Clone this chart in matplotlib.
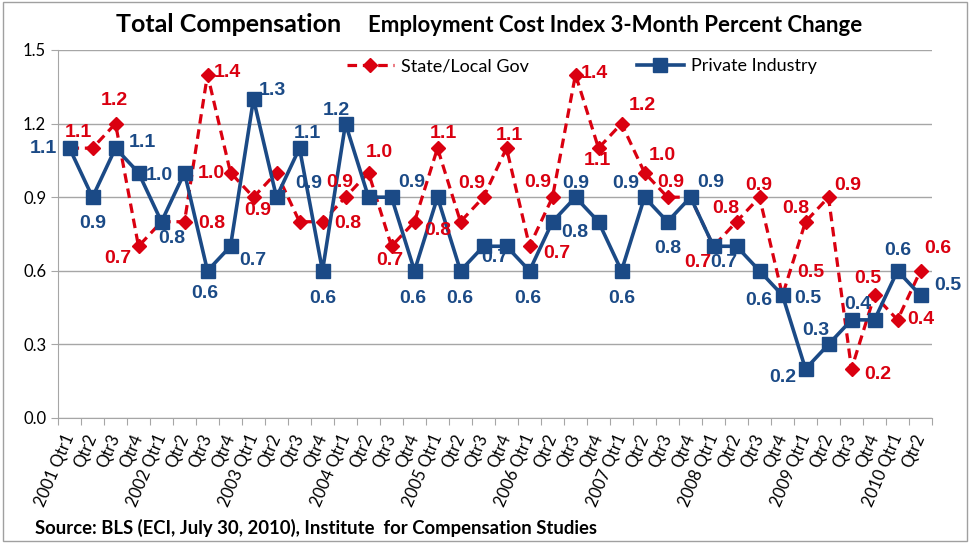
import matplotlib
matplotlib.use("Agg")
import matplotlib.pyplot as plt
from matplotlib.patches import Rectangle

years = ["2001", "2002", "2003", "2004", "2005", "2006", "2007", "2008", "2009", "2010"]
quarters = ["Qtr1", "Qtr2", "Qtr3", "Qtr4"]

state_local = [1.1, 1.1, 1.2, 0.7, 0.8, 0.8, 1.4, 1.0, 0.9, 1.0, 0.8, 0.8,
               0.9, 1.0, 0.7, 0.8, 1.1, 0.8, 0.9, 1.1, 0.7, 0.9, 1.4, 1.1,
               1.2, 1.0, 0.9, 0.9, 0.7, 0.8, 0.9, 0.5, 0.8, 0.9, 0.2, 0.5,
               0.4, 0.6]
private = [1.1, 0.9, 1.1, 1.0, 0.8, 1.0, 0.6, 0.7, 1.3, 0.9, 1.1, 0.6,
           1.2, 0.9, 0.9, 0.6, 0.9, 0.6, 0.7, 0.7, 0.6, 0.8, 0.9, 0.8,
           0.6, 0.9, 0.8, 0.9, 0.7, 0.7, 0.6, 0.5, 0.2, 0.3, 0.4, 0.4,
           0.6, 0.5]

# tick labels: year only on Qtr1
labels = []
for y in years:
    for q in quarters:
        labels.append(y + " " + q if q == "Qtr1" else q)
labels = labels[:len(private)]

# label offsets in pixels (dx, dy), None = label hidden
red_off = [(9, 16), None, (-1, 23), (-21, -12), None, (27, -2), (20, 2), (-19, -1),
           (4, -13), None, None, (25, -2), (-6, 15), (11, 20), (-2, -14), None,
           (6, 15), (-23, -9), (-12, 14), (3, 13), (27, -7), (-15, 15), (19, 1), (-1, -12),
           (21, 18), (18, 17), (3, 15), None, (-16, -16), (-11, 13), (-1, 12), (28, 23),
           (-10, 13), (19, 12), (26, -6), (-7, 17), (23, 0), (17, 22)]
blue_off = [(-26, 0), (0, -26), (27, 6), (21, -3), (10, -17), None, (-3, -23), (22, -14),
            (19, 9), (32, 14), (8, 15), (0, -28), (-9, 13), None, (20, 15), (-2, -28),
            None, (-1, -28), None, (-12, -11), (-2, -28), (22, -11), (0, 14), None,
            (0, -28), (-19, 14), (0, -27), (20, 15), (10, -16), None, (-1, -30), (25, -3),
            (-23, -9), (-13, 14), (6, 15), None, (0, 20), (27, 10)]

RED = "#DA0010"
BLUE = "#1B4A86"
GRID = "#A6A6A6"

fig = plt.figure(figsize=(9.73, 5.44), dpi=100)
ax = fig.add_axes([58/973, 1-418/544, (932-58)/973, (418-50)/544])

x = list(range(len(private)))
ax.plot(x, state_local, color=RED, lw=2.3, ls=(0, (3, 1.8)), marker="D", ms=7,
        label="State/Local Gov", zorder=3)
ax.plot(x, private, color=BLUE, lw=2.6, marker="s", ms=9.5,
        label="Private Industry", zorder=4)

lab_font = dict(family="Liberation Sans", weight="bold", fontsize=14)
for i in x:
    if red_off[i] is not None:
        ax.annotate(f"{state_local[i]:.1f}", (i, state_local[i]), xytext=red_off[i],
                    textcoords="offset pixels", ha="center", va="center",
                    color=RED, zorder=6, **lab_font)
    if blue_off[i] is not None:
        ax.annotate(f"{private[i]:.1f}", (i, private[i]), xytext=blue_off[i],
                    textcoords="offset pixels", ha="center", va="center",
                    color=BLUE, zorder=6, **lab_font)

ax.set_xlim(-0.5, len(x) - 0.5)
ax.set_ylim(0, 1.5)
ax.set_yticks([0.0, 0.3, 0.6, 0.9, 1.2, 1.5])
ax.set_yticklabels(["0.0", "0.3", "0.6", "0.9", "1.2", "1.5"], fontsize=12, family="Lato")
ax.yaxis.grid(True, color=GRID, lw=1)
ax.set_axisbelow(True)

ax.set_xticks([i - 0.5 for i in range(len(x) + 1)])
ax.set_xticklabels([])
ax.set_xticks(x, minor=True)
ax.set_xticklabels(labels, minor=True, rotation=67, ha="right", va="center",
                   rotation_mode="anchor", fontsize=12, family="Lato")
ax.tick_params(axis="x", which="minor", length=0, pad=12)
ax.tick_params(axis="x", which="major", length=5, color=GRID)
ax.tick_params(axis="y", length=5, color=GRID)

for s in ["top", "right"]:
    ax.spines[s].set_visible(False)
for s in ["left", "bottom"]:
    ax.spines[s].set_color(GRID)

fig.text(229/973, 1-25/544, "Total Compensation", ha="center", va="center",
         fontsize=18, weight="bold", family="Lato")
fig.text(615/973, 1-25/544, "Employment Cost Index 3-Month Percent Change", ha="center",
         va="center", fontsize=16, weight="bold", family="Lato")
fig.text(35/973, 1-528/544, "Source: BLS (ECI, July 30, 2010), Institute  for Compensation Studies",
         ha="left", va="center", fontsize=13.3, weight="bold", family="Lato")

ax.legend(loc="center", bbox_to_anchor=(0.598, 1-66/544), bbox_transform=fig.transFigure,
          ncol=2, frameon=False, handlelength=2.6, columnspacing=6, handletextpad=0.4,
          prop=dict(family="Lato", size=13))

fig.patches.append(Rectangle((0.003, 0.006), 0.991, 0.99, transform=fig.transFigure,
                             fill=False, edgecolor="#A0A0A0", lw=1))

fig.savefig("out.png", dpi=100)
